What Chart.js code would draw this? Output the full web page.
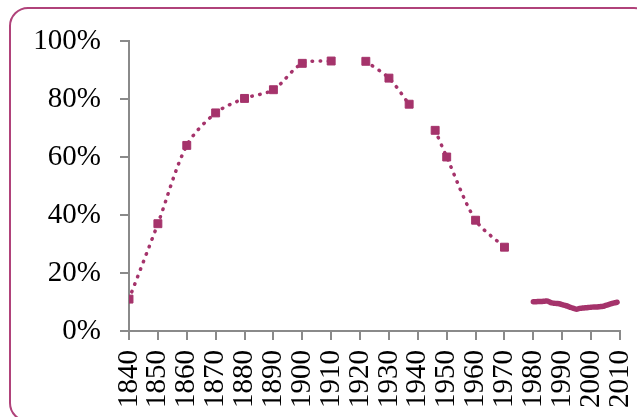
<!DOCTYPE html>
<html>
<head>
<meta charset="utf-8">
<script src="https://cdn.jsdelivr.net/npm/chart.js@4.4.0/dist/chart.umd.min.js"></script>
<style>
  html, body { margin: 0; padding: 0; background: #ffffff; overflow: hidden; }
  #chart { display: block; }
</style>
</head>
<body>
<canvas id="chart" width="637" height="417"></canvas>
<script>
// Census-era share (%), with breaks where the series is interrupted
const historyYears = [1840, 1850, 1860, 1870, 1880, 1890, 1900, 1910, 1916, 1922, 1930, 1937, 1941, 1946, 1950, 1960, 1970];
const historyShare = [11, 37, 64, 75.2, 80.2, 83.2, 92.3, 93.1, null, 93, 87.2, 78.2, null, 69.2, 60, 38.2, 28.9];

// Annual share (%), 1980-2009
const recentYears = [1980, 1981, 1982, 1983, 1984, 1985, 1986, 1987, 1988, 1989,
                     1990, 1991, 1992, 1993, 1994, 1995, 1996, 1997, 1998, 1999,
                     2000, 2001, 2002, 2003, 2004, 2005, 2006, 2007, 2008, 2009];
const recentShare = [10.1, 10.1, 10.2, 10.2, 10.3, 10.3, 9.8, 9.6, 9.5, 9.4,
                     9.1, 8.8, 8.5, 8.1, 7.8, 7.5, 7.8, 7.9, 8.0, 8.1,
                     8.2, 8.3, 8.3, 8.4, 8.5, 8.8, 9.1, 9.4, 9.7, 9.9];

// Axis ticks
const yTicks = [0, 20, 40, 60, 80, 100];
const xTickYears = [1840, 1850, 1860, 1870, 1880, 1890, 1900, 1910, 1920,
                    1930, 1940, 1950, 1960, 1970, 1980, 1990, 2000, 2010];

const lineColor = '#a5336b';
const axisColor = '#8a8a8a';
const frameColor = '#b0427a';
const labelFont = { family: '"Liberation Serif", "DejaVu Serif", serif', size: 29 };

const toPoints = (xs, ys) => xs.map((x, i) => ({ x: x, y: ys[i] }));

// Rounded outer frame around the whole chart
const framePlugin = {
  id: 'frame',
  beforeDraw(chart) {
    const ctx = chart.ctx;
    const x0 = 10, y0 = 8, x1 = 652, y1 = 421, r = 18;
    ctx.save();
    ctx.fillStyle = '#ffffff';
    ctx.fillRect(0, 0, chart.width, chart.height);
    ctx.beginPath();
    ctx.moveTo(x0 + r, y0);
    ctx.lineTo(x1 - r, y0);
    ctx.arcTo(x1, y0, x1, y0 + r, r);
    ctx.lineTo(x1, y1 - r);
    ctx.arcTo(x1, y1, x1 - r, y1, r);
    ctx.lineTo(x0 + r, y1);
    ctx.arcTo(x0, y1, x0, y1 - r, r);
    ctx.lineTo(x0, y0 + r);
    ctx.arcTo(x0, y0, x0 + r, y0, r);
    ctx.closePath();
    ctx.lineWidth = 2;
    ctx.strokeStyle = frameColor;
    ctx.stroke();
    ctx.restore();
  }
};

new Chart(document.getElementById('chart'), {
  type: 'line',
  data: {
    datasets: [
      {
        data: toPoints(historyYears, historyShare),
        borderColor: lineColor,
        backgroundColor: lineColor,
        borderWidth: 3.5,
        borderDash: [0.5, 7.5],
        borderCapStyle: 'round',
        tension: 0.3,
        spanGaps: false,
        pointStyle: 'rect',
        pointRadius: 5.6,
        pointBorderWidth: 1,
        pointBorderColor: lineColor,
        pointBackgroundColor: lineColor
      },
      {
        data: toPoints(recentYears, recentShare),
        borderColor: lineColor,
        borderWidth: 5.5,
        borderCapStyle: 'round',
        borderJoinStyle: 'round',
        tension: 0.3,
        pointRadius: 0
      }
    ]
  },
  options: {
    responsive: false,
    animation: false,
    layout: { padding: { left: 0, right: 17, top: 41, bottom: 0 } },
    plugins: { legend: { display: false }, tooltip: { enabled: false } },
    scales: {
      x: {
        type: 'linear',
        min: 1840,
        max: 2010,
        afterFit: (scale) => {
          scale.height = 86;
          scale.paddingLeft = 0;
          scale.paddingRight = 0;
        },
        afterBuildTicks: (scale) => { scale.ticks = xTickYears.map(v => ({ value: v })); },
        border: { display: true, color: axisColor, width: 2 },
        grid: { display: true, drawOnChartArea: false, drawTicks: true, tickLength: 9, color: axisColor, lineWidth: 2 },
        ticks: {
          autoSkip: false,
          maxRotation: 90,
          minRotation: 90,
          padding: 10,
          color: '#000000',
          font: labelFont,
          callback: (v) => String(v)
        }
      },
      y: {
        min: 0,
        max: 100,
        afterFit: (scale) => {
          scale.width = 129;
          scale.paddingTop = 0;
          scale.paddingBottom = 0;
        },
        afterBuildTicks: (scale) => { scale.ticks = yTicks.map(v => ({ value: v })); },
        border: { display: true, color: axisColor, width: 2 },
        grid: { display: true, drawOnChartArea: false, drawTicks: true, tickLength: 9, color: axisColor, lineWidth: 2 },
        ticks: {
          padding: 19,
          color: '#000000',
          font: labelFont,
          callback: (v) => v + '%'
        }
      }
    }
  },
  plugins: [framePlugin]
});
</script>
</body>
</html>
